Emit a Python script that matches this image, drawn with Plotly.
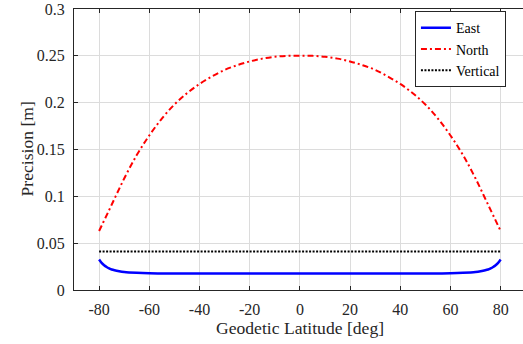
import plotly.graph_objects as go

# Data
lat_north = [-80, -75, -70, -65, -60, -55, -50, -45, -40, -35, -30, -25, -20, -15, -10, -5, 0,
             5, 10, 15, 20, 25, 30, 35, 40, 45, 50, 55, 60, 65, 70, 75, 80]
north = [0.063, 0.091, 0.119, 0.144, 0.165, 0.183, 0.198, 0.210, 0.220, 0.228, 0.235, 0.240,
         0.244, 0.247, 0.249, 0.250, 0.250,
         0.250, 0.249, 0.247, 0.244, 0.240, 0.235, 0.228, 0.220, 0.210, 0.198, 0.183, 0.165,
         0.144, 0.119, 0.091, 0.063]

lat_east = [-80, -79, -78, -77, -76, -75, -72, -70, -65, -60, -50, -40, -20, 0,
            20, 40, 50, 60, 65, 70, 72, 75, 76, 77, 78, 79, 80]
east = [0.0325, 0.0290, 0.0265, 0.0246, 0.0231, 0.0219, 0.0201, 0.0193, 0.0184, 0.0179,
        0.0176, 0.0175, 0.0175, 0.0175,
        0.0175, 0.0175, 0.0176, 0.0179, 0.0184, 0.0193, 0.0201, 0.0219, 0.0231, 0.0246,
        0.0265, 0.0290, 0.0325]

lat_vert = [-80, 80]
vertical = [0.0412, 0.0412]

x_ticks = [-80, -60, -40, -20, 0, 20, 40, 60, 80]
x_labels = ["-80", "-60", "-40", "-20", "0", "20", "40", "60", "80"]
y_ticks = [0, 0.05, 0.1, 0.15, 0.2, 0.25, 0.3]
y_labels = ["0", "0.05", "0.1", "0.15", "0.2", "0.25", "0.3"]

FONT = "Liberation Serif"
AX = "#262626"
TXT = "#262626"

fig = go.Figure()
fig.add_trace(go.Scatter(x=lat_east, y=east, mode="lines", name="East",
                         line=dict(color="#0000ff", width=2.5, shape="spline")))
fig.add_trace(go.Scatter(x=lat_north, y=north, mode="lines", name="North",
                         line=dict(color="#ff0000", width=2, dash="6px,3px,2px,3px", shape="spline")))
fig.add_trace(go.Scatter(x=lat_vert, y=vertical, mode="lines", name="Vertical",
                         line=dict(color="#000000", width=2, dash="2px,1.5px")))

fig.update_layout(
    width=523, height=344,
    margin=dict(l=74, r=0, t=9, b=54),
    paper_bgcolor="white", plot_bgcolor="white",
    font=dict(family=FONT, size=16, color=TXT),
    showlegend=True,
    legend=dict(x=0.962, y=0.992, xanchor="right", yanchor="top",
                bgcolor="white", bordercolor="#262626", borderwidth=1,
                font=dict(family=FONT, size=14, color="black"),
                tracegroupgap=0),
    annotations=[
        dict(text="Geodetic Latitude [deg]", xref="x", x=0, yref="paper", y=0,
             yanchor="middle", xanchor="center", yshift=-38, showarrow=False,
             font=dict(family=FONT, size=17.6, color=TXT)),
        dict(text="Precision [m]", xref="paper", x=0, yref="paper", y=0.5,
             xanchor="center", yanchor="middle", xshift=-48, textangle=-90, showarrow=False,
             font=dict(family=FONT, size=17.6, color=TXT)),
    ],
)
fig.update_xaxes(
    range=[-90, 88.9], tickvals=x_ticks, ticktext=x_labels, automargin=False,
    showgrid=True, gridcolor="#dcdcdc", gridwidth=1, zeroline=False,
    showline=True, linecolor=AX, linewidth=1, mirror="ticks",
    ticks="inside", ticklen=4, tickcolor=AX, ticklabelstandoff=5,
    tickfont=dict(family=FONT, size=16, color=TXT),
)
fig.update_yaxes(
    range=[0, 0.3000001], tickvals=y_ticks, ticktext=y_labels, automargin=False,
    showgrid=True, gridcolor="#dcdcdc", gridwidth=1, zeroline=False,
    showline=True, linecolor=AX, linewidth=1, mirror=False,
    ticks="inside", ticklen=4, tickcolor=AX, ticklabelstandoff=5,
    tickfont=dict(family=FONT, size=16, color=TXT),
)

fig.write_html("out.html", config={"displayModeBar": False},
               post_script="document.body.style.margin='0';document.body.style.overflow='hidden';")
